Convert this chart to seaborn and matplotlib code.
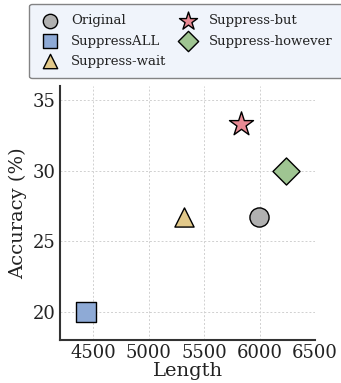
import matplotlib
matplotlib.use("Agg")
import matplotlib.pyplot as plt
import seaborn as sns
import pandas as pd

methods = ["Original", "SuppressALL", "Suppress-wait", "Suppress-but", "Suppress-however"]
lengths = [5990, 4430, 5320, 5830, 6240]
accuracies = [26.7, 20.0, 26.7, 33.3, 30.0]
colors = ["#b0b0b0", "#8eaad6", "#e2c98a", "#e88a94", "#9fc592"]
markers = ["o", "s", "^", "*", "D"]
sizes = [190, 190, 190, 330, 190]

sns.set_style("white")
plt.rcParams['font.family'] = ['DejaVu Serif']

df = pd.DataFrame({"Method": methods, "Length": lengths, "Accuracy": accuracies})

fig = plt.figure(figsize=(3.41, 3.83), dpi=100)
ax = fig.add_axes([0.176, 0.112, 0.748, 0.663])

for m, c, mk, s in zip(methods, colors, markers, sizes):
    sub = df[df["Method"] == m]
    sns.scatterplot(data=sub, x="Length", y="Accuracy", color=c, marker=mk, s=s,
                    edgecolor="black", linewidth=1.0, ax=ax, label=m, zorder=3)

ax.set_xlim(4200, 6500)
ax.set_ylim(18, 36)
ax.set_xticks([4500, 5000, 5500, 6000, 6500])
ax.set_yticks([20, 25, 30, 35])
ax.grid(True, linestyle=(0, (2, 2)), color="#d0d0d0", linewidth=0.7)
ax.set_axisbelow(True)
for sp in ["top", "right"]:
    ax.spines[sp].set_visible(False)
for sp in ["left", "bottom"]:
    ax.spines[sp].set_color("#333333")
    ax.spines[sp].set_linewidth(1.5)
ax.tick_params(axis="both", length=0, labelsize=13, pad=3, colors="#222222")
ax.set_xlabel("Length", fontsize=14, labelpad=0, color="#222222")
ax.set_ylabel("Accuracy (%)", fontsize=14, labelpad=4, color="#222222")

handles, labels = ax.get_legend_handles_labels()
ax.legend_.remove()
leg = fig.legend(handles, labels, loc="upper left", bbox_to_anchor=(0.085, 0.99),
                 borderaxespad=0.0,
                 ncol=2, fontsize=9.5, frameon=True, fancybox=True,
                 facecolor="#edf2fb", edgecolor="#666666", columnspacing=0.8,
                 handlelength=1.6, handletextpad=0.8, labelspacing=0.55,
                 borderpad=0.8, markerscale=0.75)
leg.get_frame().set_linewidth(1.0)
for t in leg.get_texts():
    t.set_color("#222222")

fig.savefig("out.png", dpi=100)
